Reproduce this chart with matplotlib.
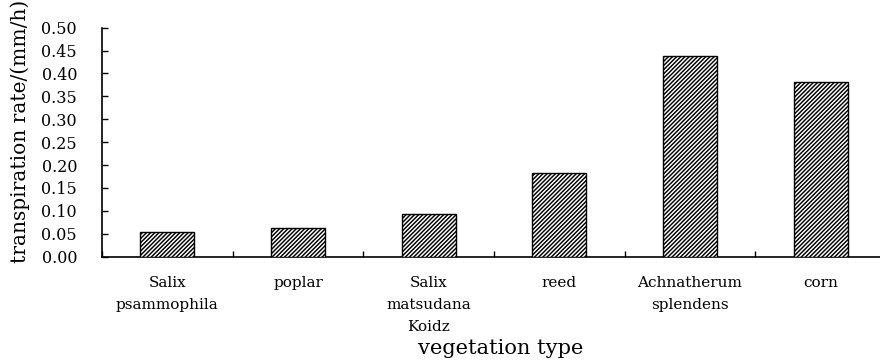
"""Transpiration rate by vegetation type — hatched bar chart."""

import matplotlib

matplotlib.use("Agg")
import matplotlib.pyplot as plt

# --------------------------------------------------------------------------- #
# Data
# --------------------------------------------------------------------------- #

categories = [
    "Salix\npsammophila",
    "poplar",
    "Salix\nmatsudana\nKoidz",
    "reed",
    "Achnatherum\nsplendens",
    "corn",
]
rates = [0.054, 0.062, 0.093, 0.182, 0.439, 0.381]
y_ticks = [0.00, 0.05, 0.10, 0.15, 0.20, 0.25, 0.30, 0.35, 0.40, 0.45, 0.50]

FONT = "DejaVu Serif"

plt.rcParams["hatch.linewidth"] = 1.05
plt.rcParams["hatch.color"] = "black"

fig = plt.figure(figsize=(8.8, 3.64), dpi=100)
# axes box in pixels: left 102, right 886, bottom 256.7, top 27.7
ax = fig.add_axes([102 / 880, (364 - 256.7) / 364, 784 / 880, 229 / 364])

x = list(range(len(categories)))
ax.bar(
    x,
    rates,
    width=0.415,
    facecolor="white",
    edgecolor="black",
    linewidth=1.0,
    hatch="////////",
    zorder=3,
)

ax.set_xlim(-0.5, len(categories) - 0.5)
ax.set_ylim(0, 0.5)

# y axis
ax.set_yticks(y_ticks)
ax.set_yticklabels([f"{v:.2f}" for v in y_ticks], fontfamily=FONT, fontsize=11.5)
ax.tick_params(axis="y", direction="in", length=4, width=1, pad=18)

# x axis: labels at centres, tick marks at category boundaries
ax.set_xticks(x)
ax.set_xticklabels(categories, fontfamily=FONT, fontsize=11, linespacing=1.7)
ax.tick_params(axis="x", which="major", length=0, pad=14)
ax.set_xticks([i - 0.5 for i in range(len(categories) + 1)], minor=True)
ax.tick_params(axis="x", which="minor", direction="in", length=4, width=1)

for side in ("top", "right"):
    ax.spines[side].set_visible(False)
for side in ("left", "bottom"):
    ax.spines[side].set_linewidth(1.2)

ax.set_ylabel("transpiration rate/(mm/h)", fontfamily=FONT, fontsize=14.5)
ax.yaxis.set_label_coords(-(102 - 20) / 784, (256.7 - 131) / 229)
ax.set_xlabel("vegetation type", fontfamily=FONT, fontsize=15)
ax.xaxis.set_label_coords((501 - 102) / 784, -(349 - 256.7) / 229)
ax.xaxis.label.set_verticalalignment("center")
ax.yaxis.label.set_verticalalignment("center")

fig.savefig("out.png", dpi=100)
plt.close(fig)
